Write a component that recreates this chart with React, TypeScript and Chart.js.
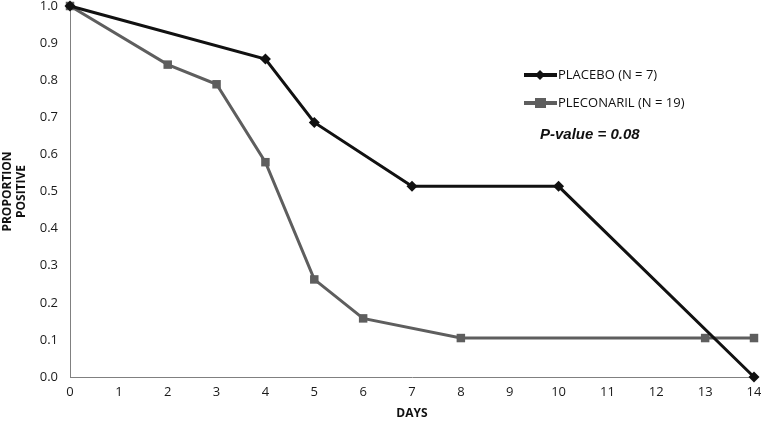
import React, { useEffect, useRef } from "react";
import { Chart, registerables } from "chart.js";
Chart.register(...registerables);

const placeboDays = [0, 4, 5, 7, 10, 14];
const placeboValues = [1.0, 0.857, 0.686, 0.514, 0.514, 0.0];
const pleconarilDays = [0, 2, 3, 4, 5, 6, 8, 13, 14];
const pleconarilValues = [1.0, 0.842, 0.789, 0.579, 0.263, 0.158, 0.105, 0.105, 0.105];
const legendLabels = ["PLACEBO (N = 7)", "PLECONARIL (N = 19)"];
const pValueText = "P-value = 0.08";
const xTitle = "DAYS";
const yTitle = ["PROPORTION", "POSITIVE"];

const BLACK = "#111111";
const GRAY = "#5e5e5e";
const FONT = "'Open Sans', 'Noto Sans', sans-serif";

export default function App() {
  const ref = useRef<HTMLCanvasElement>(null);
  useEffect(() => {
    if (!ref.current) return;
    const legendPlugin = {
      id: "customLegend",
      afterDraw(chart: any) {
        const ctx = chart.ctx;
        ctx.save();
        const items = [
          { color: BLACK, label: legendLabels[0], y: 75, shape: "diamond" },
          { color: GRAY, label: legendLabels[1], y: 103, shape: "square" },
        ];
        for (const it of items) {
          ctx.strokeStyle = it.color;
          ctx.lineWidth = 4;
          ctx.beginPath();
          ctx.moveTo(524, it.y);
          ctx.lineTo(557, it.y);
          ctx.stroke();
          ctx.fillStyle = it.color;
          if (it.shape === "diamond") {
            ctx.beginPath();
            ctx.moveTo(540, it.y - 5);
            ctx.lineTo(545, it.y);
            ctx.lineTo(540, it.y + 5);
            ctx.lineTo(535, it.y);
            ctx.closePath();
            ctx.fill();
          } else {
            ctx.fillRect(535, it.y - 5, 11, 10);
          }
          ctx.fillStyle = "#111";
          ctx.font = `13px ${FONT}`;
          ctx.textBaseline = "middle";
          ctx.textAlign = "left";
          ctx.fillText(it.label, 558, it.y);
        }
        ctx.font = "italic bold 15px 'Liberation Sans', Arial, sans-serif";
        ctx.fillText(pValueText, 540, 135);
        ctx.restore();
      },
    };
    const chart = new Chart(ref.current, {
      type: "line",
      data: {
        datasets: [
          {
            label: legendLabels[0],
            data: placeboDays.map((d, i) => ({ x: d, y: placeboValues[i] })),
            borderColor: BLACK,
            backgroundColor: BLACK,
            borderWidth: 3,
            pointStyle: "rectRot",
            pointRadius: 5.5,
            pointBorderWidth: 0,
            clip: false,
            order: 1,
          },
          {
            label: legendLabels[1],
            data: pleconarilDays.map((d, i) => ({ x: d, y: pleconarilValues[i] })),
            borderColor: GRAY,
            backgroundColor: GRAY,
            borderWidth: 3,
            pointStyle: "rect",
            pointRadius: 6,
            pointBorderWidth: 0,
            clip: false,
            order: 2,
          },
        ],
      },
      options: {
        animation: false,
        responsive: false,
        layout: { padding: { top: 5, right: 7, left: 0, bottom: 0 } },
        plugins: { legend: { display: false }, tooltip: { enabled: false } },
        scales: {
          x: {
            type: "linear",
            min: 0,
            max: 14,
            grid: { display: false, drawTicks: false },
            border: { display: true, color: "#808080", width: 1 },
            ticks: { stepSize: 1, padding: 7, color: "#1a1a1a", font: { family: FONT, size: 13 } },
            title: { display: true, text: xTitle, color: "#111", font: { family: FONT, size: 12, weight: "bold" }, padding: { top: 1 } },
            afterFit: (s: any) => { s.height = 48; s.paddingLeft = 0; s.paddingRight = 0; },
          },
          y: {
            min: 0,
            max: 1,
            grid: { display: false, drawTicks: false },
            border: { display: true, color: "#808080", width: 1 },
            ticks: {
              stepSize: 0.1,
              padding: 12,
              color: "#1a1a1a",
              font: { family: FONT, size: 13 },
              callback: (v: any) => Number(v).toFixed(1),
            },
            title: { display: true, text: yTitle, color: "#111", font: { family: FONT, size: 12, weight: "bold" }, padding: 0 },
            afterFit: (s: any) => { s.width = 70; s.paddingTop = 0; s.paddingBottom = 0; },
          },
        },
      },
      plugins: [legendPlugin],
    } as any);
    return () => chart.destroy();
  }, []);
  return (
    <div style={{ position: "absolute", left: 0, top: 0, width: 761, height: 425, background: "#fff" }}>
      <canvas ref={ref} width={761} height={425} style={{ width: 761, height: 425 }} />
    </div>
  );
}
